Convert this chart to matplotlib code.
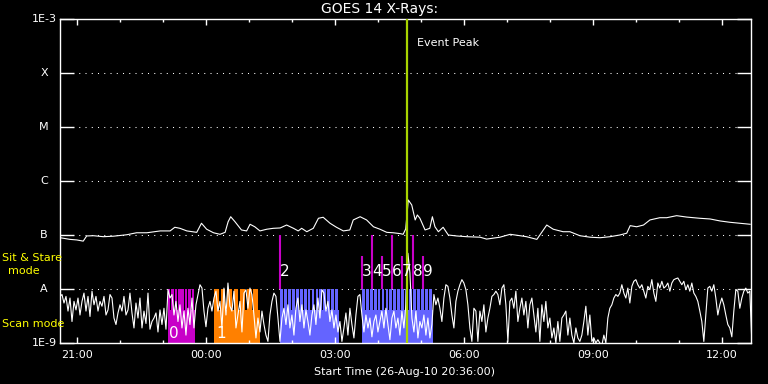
import numpy as np
import matplotlib.pyplot as plt
from matplotlib.ticker import FixedLocator, NullLocator

# time axis: hours after 26-Aug-10 20:36:00
tick_hours = [0.4, 3.4, 6.4, 9.4, 12.4, 15.4]
tick_labels = ['21:00', '00:00', '03:00', '06:00', '09:00', '12:00']

# GOES 1-8 A channel (W/m^2)
long_hours = [0.00, 0.08, 0.23, 0.39, 0.54, 0.62, 0.78, 1.01, 1.24, 1.55,
              1.78, 2.02, 2.33, 2.56, 2.67, 2.79, 2.95, 3.18, 3.29, 3.41,
              3.57, 3.72, 3.84, 3.91, 3.97, 4.07, 4.22, 4.34, 4.42, 4.53,
              4.65, 4.81, 4.96, 5.12, 5.27, 5.43, 5.54, 5.62, 5.74, 5.89,
              6.01, 6.12, 6.28, 6.43, 6.59, 6.74, 6.82, 6.98, 7.13, 7.29,
              7.44, 7.60, 7.75, 7.91, 7.98, 8.04, 8.10, 8.18, 8.26, 8.31,
              8.37, 8.49, 8.60, 8.66, 8.72, 8.80, 8.91, 9.03, 9.22, 9.46,
              9.77, 9.92, 10.23, 10.47, 10.70, 10.85, 11.09, 11.32, 11.47, 11.70,
              11.86, 12.09, 12.33, 12.56, 12.79, 13.02, 13.18, 13.26, 13.41, 13.57,
              13.72, 13.95, 14.11, 14.34, 14.57, 14.88, 15.12, 15.35, 15.58, 15.81,
              16.05]
long_flux = [8.9e-8, 8.7e-8, 8.3e-8, 8.1e-8, 7.7e-8, 9.6e-8, 9.7e-8, 9.3e-8, 9.5e-8, 1.01e-7,
             1.10e-7, 1.10e-7, 1.19e-7, 1.19e-7, 1.39e-7, 1.33e-7, 1.19e-7, 1.12e-7, 1.65e-7, 1.28e-7,
             1.10e-7, 1.03e-7, 1.12e-7, 1.76e-7, 2.18e-7, 1.76e-7, 1.24e-7, 1.19e-7, 1.58e-7, 1.42e-7,
             1.19e-7, 1.28e-7, 1.33e-7, 1.35e-7, 1.53e-7, 1.33e-7, 1.19e-7, 1.33e-7, 1.15e-7, 1.33e-7,
             2.04e-7, 2.13e-7, 1.65e-7, 1.39e-7, 1.19e-7, 1.24e-7, 1.90e-7, 2.18e-7, 1.90e-7, 1.42e-7,
             1.28e-7, 1.12e-7, 1.10e-7, 1.06e-7, 1.03e-7, 1.30e-7, 4.45e-7, 3.6e-7, 1.90e-7, 2.35e-7,
             2.04e-7, 1.24e-7, 1.33e-7, 2.18e-7, 1.42e-7, 1.15e-7, 1.39e-7, 1.0e-7, 9.6e-8, 9.3e-8,
             9.1e-8, 8.4e-8, 9.1e-8, 1.03e-7, 9.7e-8, 9.3e-8, 8.3e-8, 1.53e-7, 1.28e-7, 1.15e-7,
             1.15e-7, 9.7e-8, 9.1e-8, 8.9e-8, 9.3e-8, 1.0e-7, 1.08e-7, 1.49e-7, 1.42e-7, 1.53e-7,
             1.90e-7, 2.09e-7, 2.09e-7, 2.28e-7, 2.15e-7, 2.04e-7, 1.98e-7, 1.82e-7, 1.72e-7, 1.65e-7,
             1.58e-7]

# GOES 0.5-4 A channel, units of 1e-9 W/m^2, one sample every 2.79 min
short_cadence_min = 2.79
short_flux = [
    7.3, 7.9, 5.5, 7.3, 3.9, 6.8, 2.5, 5.9, 4.1, 6.8,
    3.3, 5.9, 8.4, 3.9, 7.3, 3.1, 9.1, 5.1, 7.3, 3.9,
    5.9, 4.8, 7.3, 3.3, 4.1, 7.9, 6.8, 2.9, 2.2, 3.6,
    5.1, 3.9, 7.3, 3.3, 4.1, 8.4, 3.6, 1.9, 5.5, 2.9,
    6.8, 1.9, 3.9, 2.3, 8.4, 1.8, 2.5, 2.9, 3.6, 1.6,
    4.1, 2.2, 4.4, 1.8, 9.7, 6.8, 7.9, 3.3, 5.9, 2.5,
    5.1, 1.9, 3.9, 1.4, 4.4, 2.2, 6.8, 1.9, 5.1, 7.9,
    12.0, 10.4, 3.9, 2.0, 4.4, 5.9, 3.9, 6.8, 9.1, 3.9,
    5.9, 1.9, 10.4, 3.3, 12.9, 4.8, 3.9, 9.1,
    1.9, 3.3, 5.9, 1.6, 8.4, 9.7, 4.4, 10.4, 7.9, 3.3,
    1.24, 2.9, 1.6, 3.9, 2.2, 1.4, 1.07, 3.3, 5.9, 8.4,
    7.3, 2.9, 1.07, 2.9, 4.4, 2.2, 5.1, 1.9, 3.3, 1.4,
    4.4, 6.8, 2.5, 5.1, 1.9, 4.1, 2.5, 1.4, 3.3, 5.1,
    2.2, 6.8, 2.9, 9.7, 8.4, 3.9, 5.9, 2.5, 4.1, 1.9,
    3.3, 1.6, 2.5, 1.07, 1.9, 3.6, 1.4, 4.4, 2.2, 1.24,
    3.3, 7.3, 7.9, 3.3, 1.6, 3.3, 1.9, 2.9, 1.3, 2.5,
    3.3, 1.6, 2.5, 3.9, 1.9, 4.4, 2.2, 1.15, 2.9, 3.9,
    1.9, 2.9, 1.4, 3.9, 1.9, 5.1,
    46.0, 20.0, 2.9, 1.6, 3.9, 1.24, 2.5, 1.9, 3.3, 1.4,
    2.9, 1.24, 2.2, 7.9, 5.1, 6.8, 4.4, 2.5, 6.8, 12.0,
    11.2, 6.8, 3.3, 1.9, 5.9, 9.1, 12.0, 14.9, 12.9, 9.7,
    5.1, 1.9, 1.07, 4.4, 3.9, 1.07, 3.9, 2.5, 5.1, 1.6,
    2.9, 4.4, 7.3, 7.9, 9.1, 7.9, 5.1, 10.4, 12.0, 5.1,
    1.07, 5.9, 6.8, 4.4, 9.1, 2.5, 4.4, 6.8, 3.3, 5.9,
    1.9, 5.1, 6.8, 3.3, 1.6, 4.4, 1.07, 5.1, 2.5, 5.9,
    1.9, 2.9, 1.24, 1.9, 1.0, 2.5, 1.07, 2.9, 3.3, 3.9,
    1.4, 2.9, 1.4, 1.0, 1.9, 1.24, 1.07,
    1.4, 2.5, 4.8, 1.4, 3.3, 1.07, 1.24, 1.0, 1.15, 1.0,
    0.9, 1.4, 1.0, 2.9, 4.4, 5.1, 6.8, 7.9, 7.3, 8.4,
    12.0, 8.4, 6.8, 10.4, 5.5, 11.2, 13.9, 14.9, 12.0, 10.4,
    12.0, 9.1, 6.8, 11.2, 9.7, 14.9, 8.4, 5.9, 12.9, 10.4,
    13.9, 10.4, 11.2, 12.9, 9.1, 12.9, 14.9, 15.5, 16.0, 13.9,
    12.0, 13.9, 9.7, 12.0, 9.1, 12.9, 8.4, 7.3, 5.9, 3.9,
    2.5, 1.07, 3.3, 10.4, 11.2, 9.1, 12.0, 6.8, 3.3, 5.1,
    6.8, 5.1, 3.3, 2.2, 1.9, 1.3, 3.9, 9.7, 9.1, 4.4,
    6.8, 9.1, 10.4, 8.4, 9.1, 1.07,
]

# level labels
level_flux = [1e-3, 1e-4, 1e-5, 1e-6, 1e-7, 1e-8, 1e-9]
level_names = ['1E-3', 'X', 'M', 'C', 'B', 'A', '1E-9']

# scan mode blocks
scan_start = [2.51, 3.58, 5.12, 7.02]
scan_end = [3.14, 4.65, 6.49, 8.67]
scan_frames = [8, 7, 15, 18]
scan_colors = ['#c800c8', '#ff8000', '#6464ff', '#6464ff']
scan_low = 4.1e-9
scan_label_hours = [2.53, 3.63]
scan_label_text = ['0', '1']

# sit & stare pointings
stare_hours = [5.12, 7.02, 7.26, 7.49, 7.72, 7.95, 8.21, 8.44]
stare_top = [1e-7, 4.1e-8, 1e-7, 4.1e-8, 1e-7, 4.1e-8, 1e-7, 4.1e-8]
stare_labels = ['2', '3', '4', '5', '6', '7', '8', '9']

peak_hour = 8.08

fig = plt.figure(figsize=(7.68, 3.84), dpi=100, facecolor='black')
ax = fig.add_axes([60 / 768, 41 / 384, 691 / 768, 324 / 384], facecolor='black')
ax.set_yscale('log')
ax.set_xlim(0, 16.07)
ax.set_ylim(1e-9, 1e-3)

# scan mode blocks
for start, end, nframe, color in zip(scan_start, scan_end, scan_frames, scan_colors):
    ax.bar(start, scan_low - 1e-9, width=end - start, bottom=1e-9, align='edge',
           color=color, linewidth=0, zorder=1)
    step = (end - start) / nframe
    left = np.linspace(start, end, nframe + 1)[:-1]
    ax.bar(left, 1e-8 - 1e-9, width=step * 0.72, bottom=1e-9, align='edge',
           color=color, linewidth=0, zorder=1)
for h, s in zip(scan_label_hours, scan_label_text):
    ax.text(h, 1.53e-9, s, color='white', fontsize=11, ha='left', va='center', zorder=5)

# dotted level lines
for lev in level_flux[1:-1]:
    ax.axhline(lev, color='white', linestyle=(0, (1, 5)), linewidth=0.75, zorder=0)

# sit & stare markers
ax.vlines(stare_hours, 1e-8, stare_top, color='#c800c8', linewidth=1.5, zorder=2)
for h, s in zip(stare_hours, stare_labels):
    ax.text(h, 2.07e-8, s, color='white', fontsize=11, ha='left', va='center', zorder=5)

# curves
ax.plot(long_hours, long_flux, color='white', linewidth=0.8, zorder=3)
short_hours = np.arange(len(short_flux)) * short_cadence_min / 60
ax.plot(short_hours, np.array(short_flux) * 1e-9, color='white', linewidth=0.8, zorder=3)

# event peak
ax.axvline(peak_hour, color='#a8d400', linewidth=1.6, zorder=4)
ax.text(8.30, 3.6e-4, 'Event Peak', color='white', fontsize=8, ha='left', va='center')

# axes styling
for sp in ax.spines.values():
    sp.set_color('white')
    sp.set_linewidth(1.0)
ax.xaxis.set_major_locator(FixedLocator(tick_hours))
ax.xaxis.set_minor_locator(FixedLocator(np.arange(0.4, 16.07, 1.0)))
ax.set_xticklabels(tick_labels)
ax.tick_params(axis='x', which='major', direction='in', length=4.5, width=1,
               color='white', labelcolor='white', labelsize=8, top=True, pad=5)
ax.tick_params(axis='x', which='minor', direction='in', length=2.3, width=1,
               color='white', top=True)
ax.yaxis.set_major_locator(FixedLocator(level_flux))
ax.yaxis.set_minor_locator(NullLocator())
ax.set_yticklabels([])
ax.tick_params(axis='y', which='major', direction='in', length=10, width=1,
               color='white', left=True, right=True)

trans = ax.get_yaxis_transform()
for lev, name in zip(level_flux, level_names):
    if name.startswith('1E'):
        ax.text(-3 / 691, lev, name, transform=trans, color='white', fontsize=8,
                ha='right', va='center', clip_on=False)
    else:
        ax.text(-16 / 691, lev, name, transform=trans, color='white', fontsize=8,
                ha='center', va='center', clip_on=False)

fig.text(2 / 768, 1 - 258 / 384, 'Sit & Stare', color='yellow', fontsize=8, ha='left', va='center')
fig.text(24 / 768, 1 - 271 / 384, 'mode', color='yellow', fontsize=8, ha='center', va='center')
fig.text(2 / 768, 1 - 324 / 384, 'Scan mode', color='yellow', fontsize=8, ha='left', va='center')

fig.text(380 / 768, 1 - 9 / 384, 'GOES 14 X-Rays:', color='white', fontsize=10, ha='center', va='center')
fig.text(405 / 768, 1 - 372 / 384, 'Start Time (26-Aug-10 20:36:00)', color='white',
         fontsize=8, ha='center', va='center')

fig.savefig('out.png', dpi=100, facecolor='black')
